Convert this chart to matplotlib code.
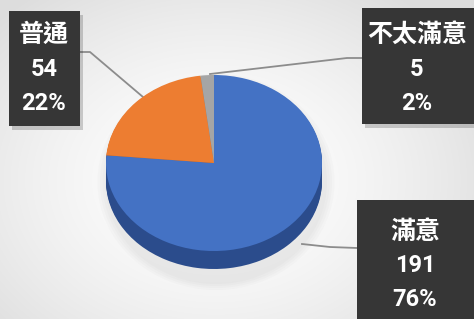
import matplotlib.pyplot as plt
import numpy as np
from matplotlib.patches import Rectangle, Ellipse

plt.rcParams["font.family"] = ["Noto Sans CJK TC", "DejaVu Sans"]

# data
labels = ["滿意", "普通", "不太滿意"]
counts = [191, 54, 5]
percents = ["76%", "22%", "2%"]
colors = ["#4472c4", "#ed7d31", "#a5a5a5"]
side_colors = ["#2b4c8c", "#b85d1e", "#7f7f7f"]

W, H = 474, 319
fig = plt.figure(figsize=(W / 100, H / 100), dpi=100)

# background with soft radial gradient
bg = fig.add_axes([0, 0, 1, 1])
bg.set_xlim(0, W)
bg.set_ylim(H, 0)
bg.axis("off")
yy, xx = np.mgrid[0:H, 0:W]
r = np.sqrt(((xx - 215) / 300.0) ** 2 + ((yy - 180) / 230.0) ** 2)
shade = 1.0 - 0.13 * np.clip(r, 0, 1) ** 1.6
bg.imshow(np.dstack([shade] * 3), extent=(0, W, H, 0), aspect="auto", zorder=0)

# soft shadow under pie
for k in range(4):
    bg.add_patch(Ellipse((216, 182), 222 + k * 5, 204 + k * 4,
                         color="#9a9a9a", alpha=0.04, lw=0, zorder=1))

# pie axes, squashed into an ellipse
px0, px1 = 106, 322
top, ry, depth = 75, 88, 18
bottom = top + 2 * ry + depth
pax = fig.add_axes([px0 / W, 1 - bottom / H, (px1 - px0) / W, (bottom - top) / H])

d = depth / ry
for s in np.linspace(d, 0.01, 14):
    pax.pie(counts, colors=side_colors, startangle=90, counterclock=False,
            center=(0, -s), radius=1, frame=True,
            wedgeprops=dict(linewidth=0))
pax.pie(counts, colors=colors, startangle=90, counterclock=False,
        center=(0, 0), radius=1, frame=True,
        wedgeprops=dict(linewidth=0))
pax.set_aspect("auto")
pax.set_xlim(-1, 1)
pax.set_ylim(1 - (bottom - top) / ry, 1)
pax.axis("off")

# callout boxes
boxes = {
    "滿意": (357, 200, 120, 122, 415, [232, 265, 299]),
    "普通": (9, 11, 71, 115, 44, [35, 69, 103]),
    "不太滿意": (362, 8, 115, 116, 417, [35, 70, 103]),
}
leaders = {
    "滿意": [(357, 248), (330, 247), (302, 244)],
    "普通": [(80, 52), (90, 52), (143, 97)],
    "不太滿意": [(362, 58), (347, 58), (210, 74)],
}

for lab, n, p in zip(labels, counts, percents):
    pts = np.array(leaders[lab])
    bg.plot(pts[:, 0], pts[:, 1], color="#8c8c8c", lw=1.3, zorder=3)
    x, y, w, h, cx, lines = boxes[lab]
    bg.add_patch(Rectangle((x + 3, y + 4), w, h, color="#000000", alpha=0.18,
                           lw=0, zorder=4))
    bg.add_patch(Rectangle((x, y), w, h, color="#363636", lw=0, zorder=5))
    bg.text(cx, lines[0], lab, color="white", fontsize=18, fontweight="bold",
            ha="center", va="center", zorder=6)
    for txt, ty in zip([str(n), p], lines[1:]):
        bg.text(cx, ty, txt, color="white", fontsize=17, fontweight="bold",
                family=["Roboto", "DejaVu Sans"],
                ha="center", va="center", zorder=6)

fig.savefig("out.png", dpi=100)
